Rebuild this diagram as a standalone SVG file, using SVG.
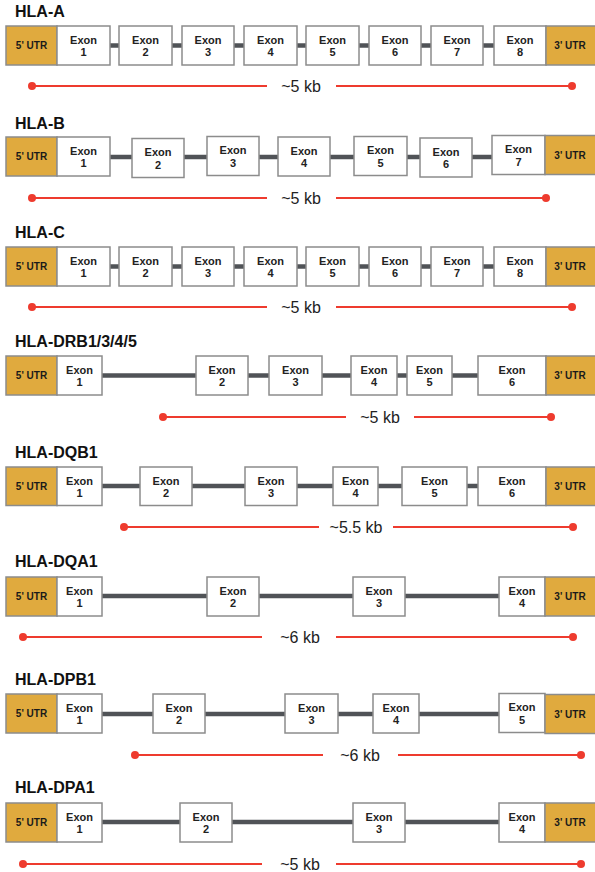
<svg xmlns="http://www.w3.org/2000/svg" width="595" height="872" viewBox="0 0 595 872">
<style>
.bg{fill:#fff}
.title{font-family:"Liberation Sans",Arial,sans-serif;font-weight:bold;font-size:16px;fill:#111}
.ex rect{fill:#fff;stroke:#8c8c8c;stroke-width:1.5}
.utr rect{fill:#E0AA3E;stroke:#8c8c8c;stroke-width:1.5}
.ex text{font-family:"Liberation Sans",Arial,sans-serif;font-weight:bold;font-size:11px;fill:#222;text-anchor:middle}
.utr text{font-family:"Liberation Sans",Arial,sans-serif;font-weight:bold;font-size:10px;fill:#1a1a1a;text-anchor:middle}
.intron{stroke:#505357;stroke-width:4.5;fill:none}
.bar{stroke:#EE3B2E;stroke-width:2;fill:none}
.dot{fill:#EE3B2E}
.kb{font-family:"Liberation Sans",Arial,sans-serif;font-size:16px;fill:#222;text-anchor:middle}
</style>
<rect class="bg" x="0" y="0" width="595" height="872"/>

<g id="connectors">
  <line class="intron" x1="110" y1="45.5" x2="494" y2="45.5"/>
  <line class="intron" x1="110" y1="157" x2="492" y2="157"/>
  <line class="intron" x1="110" y1="266.5" x2="494" y2="266.5"/>
  <line class="intron" x1="102" y1="375.5" x2="478" y2="375.5"/>
  <line class="intron" x1="102" y1="486" x2="478" y2="486"/>
  <line class="intron" x1="102" y1="596" x2="499" y2="596"/>
  <line class="intron" x1="102" y1="714" x2="499" y2="714"/>
  <line class="intron" x1="102" y1="822" x2="499" y2="822"/>
</g>

<g id="scale-bars">
  <line class="bar" x1="32" y1="86" x2="267" y2="86"/><line class="bar" x1="336" y1="86" x2="572" y2="86"/>
  <circle class="dot" cx="32" cy="86" r="4"/><circle class="dot" cx="572" cy="86" r="4"/>
  <text class="kb" x="301" y="92">~5 kb</text>

  <line class="bar" x1="32" y1="198" x2="267" y2="198"/><line class="bar" x1="336" y1="198" x2="546" y2="198"/>
  <circle class="dot" cx="32" cy="198" r="4"/><circle class="dot" cx="546" cy="198" r="4"/>
  <text class="kb" x="301" y="204">~5 kb</text>

  <line class="bar" x1="32" y1="307" x2="267" y2="307"/><line class="bar" x1="336" y1="307" x2="572" y2="307"/>
  <circle class="dot" cx="32" cy="307" r="4"/><circle class="dot" cx="572" cy="307" r="4"/>
  <text class="kb" x="301" y="313">~5 kb</text>

  <line class="bar" x1="163" y1="417" x2="346" y2="417"/><line class="bar" x1="414" y1="417" x2="551" y2="417"/>
  <circle class="dot" cx="163" cy="417" r="4"/><circle class="dot" cx="551" cy="417" r="4"/>
  <text class="kb" x="380" y="423">~5 kb</text>

  <line class="bar" x1="124" y1="527" x2="319" y2="527"/><line class="bar" x1="393" y1="527" x2="573" y2="527"/>
  <circle class="dot" cx="124" cy="527" r="4"/><circle class="dot" cx="573" cy="527" r="4"/>
  <text class="kb" x="356" y="533">~5.5 kb</text>

  <line class="bar" x1="23" y1="637" x2="262" y2="637"/><line class="bar" x1="336" y1="637" x2="573" y2="637"/>
  <circle class="dot" cx="23" cy="637" r="4"/><circle class="dot" cx="573" cy="637" r="4"/>
  <text class="kb" x="300" y="643">~6 kb</text>

  <line class="bar" x1="135" y1="755" x2="323" y2="755"/><line class="bar" x1="398" y1="755" x2="581" y2="755"/>
  <circle class="dot" cx="135" cy="755" r="4"/><circle class="dot" cx="581" cy="755" r="4"/>
  <text class="kb" x="360" y="761">~6 kb</text>

  <line class="bar" x1="23" y1="864" x2="262" y2="864"/><line class="bar" x1="336" y1="864" x2="581" y2="864"/>
  <circle class="dot" cx="23" cy="864" r="4"/><circle class="dot" cx="581" cy="864" r="4"/>
  <text class="kb" x="300" y="870">~5 kb</text>
</g>

<!-- HLA-A -->
<g id="hla-a">
  <text class="title" x="15" y="17">HLA-A</text>
  <g id="a-utr5" class="utr"><rect x="6" y="26" width="51" height="39"/><text x="31.5" y="49">5' UTR</text></g>
  <g id="a-ex1" class="ex"><rect x="57" y="26" width="53" height="39"/><text x="83.5" y="43.5">Exon</text><text x="83.5" y="56">1</text></g>
  <g id="a-ex2" class="ex"><rect x="119" y="26" width="53" height="39"/><text x="145.5" y="43.5">Exon</text><text x="145.5" y="56">2</text></g>
  <g id="a-ex3" class="ex"><rect x="182" y="26" width="52" height="39"/><text x="208" y="43.5">Exon</text><text x="208" y="56">3</text></g>
  <g id="a-ex4" class="ex"><rect x="244" y="26" width="53" height="39"/><text x="270.5" y="43.5">Exon</text><text x="270.5" y="56">4</text></g>
  <g id="a-ex5" class="ex"><rect x="306" y="26" width="53" height="39"/><text x="332.5" y="43.5">Exon</text><text x="332.5" y="56">5</text></g>
  <g id="a-ex6" class="ex"><rect x="369" y="26" width="52" height="39"/><text x="395" y="43.5">Exon</text><text x="395" y="56">6</text></g>
  <g id="a-ex7" class="ex"><rect x="431" y="26" width="52" height="39"/><text x="457" y="43.5">Exon</text><text x="457" y="56">7</text></g>
  <g id="a-ex8" class="ex"><rect x="494" y="26" width="52" height="39"/><text x="520" y="43.5">Exon</text><text x="520" y="56">8</text></g>
  <g id="a-utr3" class="utr"><rect x="546" y="26" width="51" height="39"/><text x="570" y="49">3' UTR</text></g>
</g>

<!-- HLA-B -->
<g id="hla-b">
  <text class="title" x="15" y="129">HLA-B</text>
  <g id="b-utr5" class="utr"><rect x="6" y="137" width="51" height="39"/><text x="31.5" y="160">5' UTR</text></g>
  <g id="b-ex1" class="ex"><rect x="57" y="137" width="53" height="39"/><text x="83.5" y="154.5">Exon</text><text x="83.5" y="167">1</text></g>
  <g id="b-ex2" class="ex"><rect x="132" y="138.5" width="52" height="39"/><text x="158" y="156">Exon</text><text x="158" y="168.5">2</text></g>
  <g id="b-ex3" class="ex"><rect x="207" y="136.5" width="52" height="39"/><text x="233" y="154">Exon</text><text x="233" y="166.5">3</text></g>
  <g id="b-ex4" class="ex"><rect x="278" y="137" width="52" height="39"/><text x="304" y="154.5">Exon</text><text x="304" y="167">4</text></g>
  <g id="b-ex5" class="ex"><rect x="354" y="136.5" width="53" height="39"/><text x="380.5" y="154">Exon</text><text x="380.5" y="166.5">5</text></g>
  <g id="b-ex6" class="ex"><rect x="420" y="138" width="52" height="39"/><text x="446" y="155.5">Exon</text><text x="446" y="168">6</text></g>
  <g id="b-ex7" class="ex"><rect x="492" y="135.5" width="53" height="39"/><text x="518.5" y="153">Exon</text><text x="518.5" y="165.5">7</text></g>
  <g id="b-utr3" class="utr"><rect x="545" y="135.5" width="52" height="39"/><text x="570" y="158.5">3' UTR</text></g>
</g>

<!-- HLA-C -->
<g id="hla-c">
  <text class="title" x="15" y="238">HLA-C</text>
  <g id="c-utr5" class="utr"><rect x="6" y="247" width="51" height="39"/><text x="31.5" y="270">5' UTR</text></g>
  <g id="c-ex1" class="ex"><rect x="57" y="247" width="53" height="39"/><text x="83.5" y="264.5">Exon</text><text x="83.5" y="277">1</text></g>
  <g id="c-ex2" class="ex"><rect x="119" y="247" width="53" height="39"/><text x="145.5" y="264.5">Exon</text><text x="145.5" y="277">2</text></g>
  <g id="c-ex3" class="ex"><rect x="182" y="247" width="52" height="39"/><text x="208" y="264.5">Exon</text><text x="208" y="277">3</text></g>
  <g id="c-ex4" class="ex"><rect x="244" y="247" width="53" height="39"/><text x="270.5" y="264.5">Exon</text><text x="270.5" y="277">4</text></g>
  <g id="c-ex5" class="ex"><rect x="306" y="247" width="53" height="39"/><text x="332.5" y="264.5">Exon</text><text x="332.5" y="277">5</text></g>
  <g id="c-ex6" class="ex"><rect x="369" y="247" width="52" height="39"/><text x="395" y="264.5">Exon</text><text x="395" y="277">6</text></g>
  <g id="c-ex7" class="ex"><rect x="431" y="247" width="52" height="39"/><text x="457" y="264.5">Exon</text><text x="457" y="277">7</text></g>
  <g id="c-ex8" class="ex"><rect x="494" y="247" width="52" height="39"/><text x="520" y="264.5">Exon</text><text x="520" y="277">8</text></g>
  <g id="c-utr3" class="utr"><rect x="546" y="247" width="51" height="39"/><text x="570" y="270">3' UTR</text></g>
</g>

<!-- HLA-DRB1/3/4/5 -->
<g id="hla-drb">
  <text class="title" x="15" y="347">HLA-DRB1/3/4/5</text>
  <g id="drb-utr5" class="utr"><rect x="6" y="356" width="51" height="39"/><text x="31.5" y="379">5' UTR</text></g>
  <g id="drb-ex1" class="ex"><rect x="57" y="356" width="45" height="39"/><text x="79.5" y="373.5">Exon</text><text x="79.5" y="386">1</text></g>
  <g id="drb-ex2" class="ex"><rect x="196" y="356" width="52" height="39"/><text x="222" y="373.5">Exon</text><text x="222" y="386">2</text></g>
  <g id="drb-ex3" class="ex"><rect x="269" y="356" width="53" height="39"/><text x="295.5" y="373.5">Exon</text><text x="295.5" y="386">3</text></g>
  <g id="drb-ex4" class="ex"><rect x="351" y="356" width="46" height="39"/><text x="374" y="373.5">Exon</text><text x="374" y="386">4</text></g>
  <g id="drb-ex5" class="ex"><rect x="407" y="356" width="45" height="39"/><text x="429.5" y="373.5">Exon</text><text x="429.5" y="386">5</text></g>
  <g id="drb-ex6" class="ex"><rect x="478" y="356" width="68" height="39"/><text x="512" y="373.5">Exon</text><text x="512" y="386">6</text></g>
  <g id="drb-utr3" class="utr"><rect x="546" y="356" width="51" height="39"/><text x="570" y="379">3' UTR</text></g>
</g>

<!-- HLA-DQB1 -->
<g id="hla-dqb1">
  <text class="title" x="15" y="458">HLA-DQB1</text>
  <g id="dqb1-utr5" class="utr"><rect x="6" y="467" width="51" height="38.5"/><text x="31.5" y="490">5' UTR</text></g>
  <g id="dqb1-ex1" class="ex"><rect x="57" y="467" width="45" height="38.5"/><text x="79.5" y="484.5">Exon</text><text x="79.5" y="497">1</text></g>
  <g id="dqb1-ex2" class="ex"><rect x="140" y="467" width="52" height="38.5"/><text x="166" y="484.5">Exon</text><text x="166" y="497">2</text></g>
  <g id="dqb1-ex3" class="ex"><rect x="245" y="467" width="52" height="38.5"/><text x="271" y="484.5">Exon</text><text x="271" y="497">3</text></g>
  <g id="dqb1-ex4" class="ex"><rect x="333" y="467" width="45" height="38.5"/><text x="355.5" y="484.5">Exon</text><text x="355.5" y="497">4</text></g>
  <g id="dqb1-ex5" class="ex"><rect x="402" y="467" width="65" height="38.5"/><text x="434.5" y="484.5">Exon</text><text x="434.5" y="497">5</text></g>
  <g id="dqb1-ex6" class="ex"><rect x="478" y="467" width="68" height="38.5"/><text x="512" y="484.5">Exon</text><text x="512" y="497">6</text></g>
  <g id="dqb1-utr3" class="utr"><rect x="546" y="467" width="51" height="38.5"/><text x="570" y="490">3' UTR</text></g>
</g>

<!-- HLA-DQA1 -->
<g id="hla-dqa1">
  <text class="title" x="15" y="567">HLA-DQA1</text>
  <g id="dqa1-utr5" class="utr"><rect x="6" y="577" width="51" height="39"/><text x="31.5" y="600">5' UTR</text></g>
  <g id="dqa1-ex1" class="ex"><rect x="57" y="577" width="45" height="39"/><text x="79.5" y="594.5">Exon</text><text x="79.5" y="607">1</text></g>
  <g id="dqa1-ex2" class="ex"><rect x="207" y="577" width="52" height="39"/><text x="233" y="594.5">Exon</text><text x="233" y="607">2</text></g>
  <g id="dqa1-ex3" class="ex"><rect x="353" y="577" width="52" height="39"/><text x="379" y="594.5">Exon</text><text x="379" y="607">3</text></g>
  <g id="dqa1-ex4" class="ex"><rect x="499" y="577" width="46" height="39"/><text x="522" y="594.5">Exon</text><text x="522" y="607">4</text></g>
  <g id="dqa1-utr3" class="utr"><rect x="545" y="577" width="52" height="39"/><text x="570" y="600">3' UTR</text></g>
</g>

<!-- HLA-DPB1 -->
<g id="hla-dpb1">
  <text class="title" x="15" y="685">HLA-DPB1</text>
  <g id="dpb1-utr5" class="utr"><rect x="6" y="694" width="51" height="39"/><text x="31.5" y="717">5' UTR</text></g>
  <g id="dpb1-ex1" class="ex"><rect x="57" y="694" width="45" height="39"/><text x="79.5" y="711.5">Exon</text><text x="79.5" y="724">1</text></g>
  <g id="dpb1-ex2" class="ex"><rect x="153" y="694" width="52" height="39"/><text x="179" y="711.5">Exon</text><text x="179" y="724">2</text></g>
  <g id="dpb1-ex3" class="ex"><rect x="285" y="694" width="53" height="39"/><text x="311.5" y="711.5">Exon</text><text x="311.5" y="724">3</text></g>
  <g id="dpb1-ex4" class="ex"><rect x="373" y="694" width="46" height="39"/><text x="396" y="711.5">Exon</text><text x="396" y="724">4</text></g>
  <g id="dpb1-ex5" class="ex"><rect x="499" y="693.5" width="46" height="39"/><text x="522" y="711">Exon</text><text x="522" y="723.5">5</text></g>
  <g id="dpb1-utr3" class="utr"><rect x="545" y="694.5" width="52" height="39"/><text x="570" y="717.5">3' UTR</text></g>
</g>

<!-- HLA-DPA1 -->
<g id="hla-dpa1">
  <text class="title" x="15" y="793">HLA-DPA1</text>
  <g id="dpa1-utr5" class="utr"><rect x="6" y="803" width="51" height="39"/><text x="31.5" y="826">5' UTR</text></g>
  <g id="dpa1-ex1" class="ex"><rect x="57" y="803" width="45" height="39"/><text x="79.5" y="820.5">Exon</text><text x="79.5" y="833">1</text></g>
  <g id="dpa1-ex2" class="ex"><rect x="180" y="803" width="52" height="39"/><text x="206" y="820.5">Exon</text><text x="206" y="833">2</text></g>
  <g id="dpa1-ex3" class="ex"><rect x="353" y="803" width="52" height="39"/><text x="379" y="820.5">Exon</text><text x="379" y="833">3</text></g>
  <g id="dpa1-ex4" class="ex"><rect x="499" y="803" width="46" height="39"/><text x="522" y="820.5">Exon</text><text x="522" y="833">4</text></g>
  <g id="dpa1-utr3" class="utr"><rect x="545" y="803" width="52" height="39"/><text x="570" y="826">3' UTR</text></g>
</g>
</svg>
